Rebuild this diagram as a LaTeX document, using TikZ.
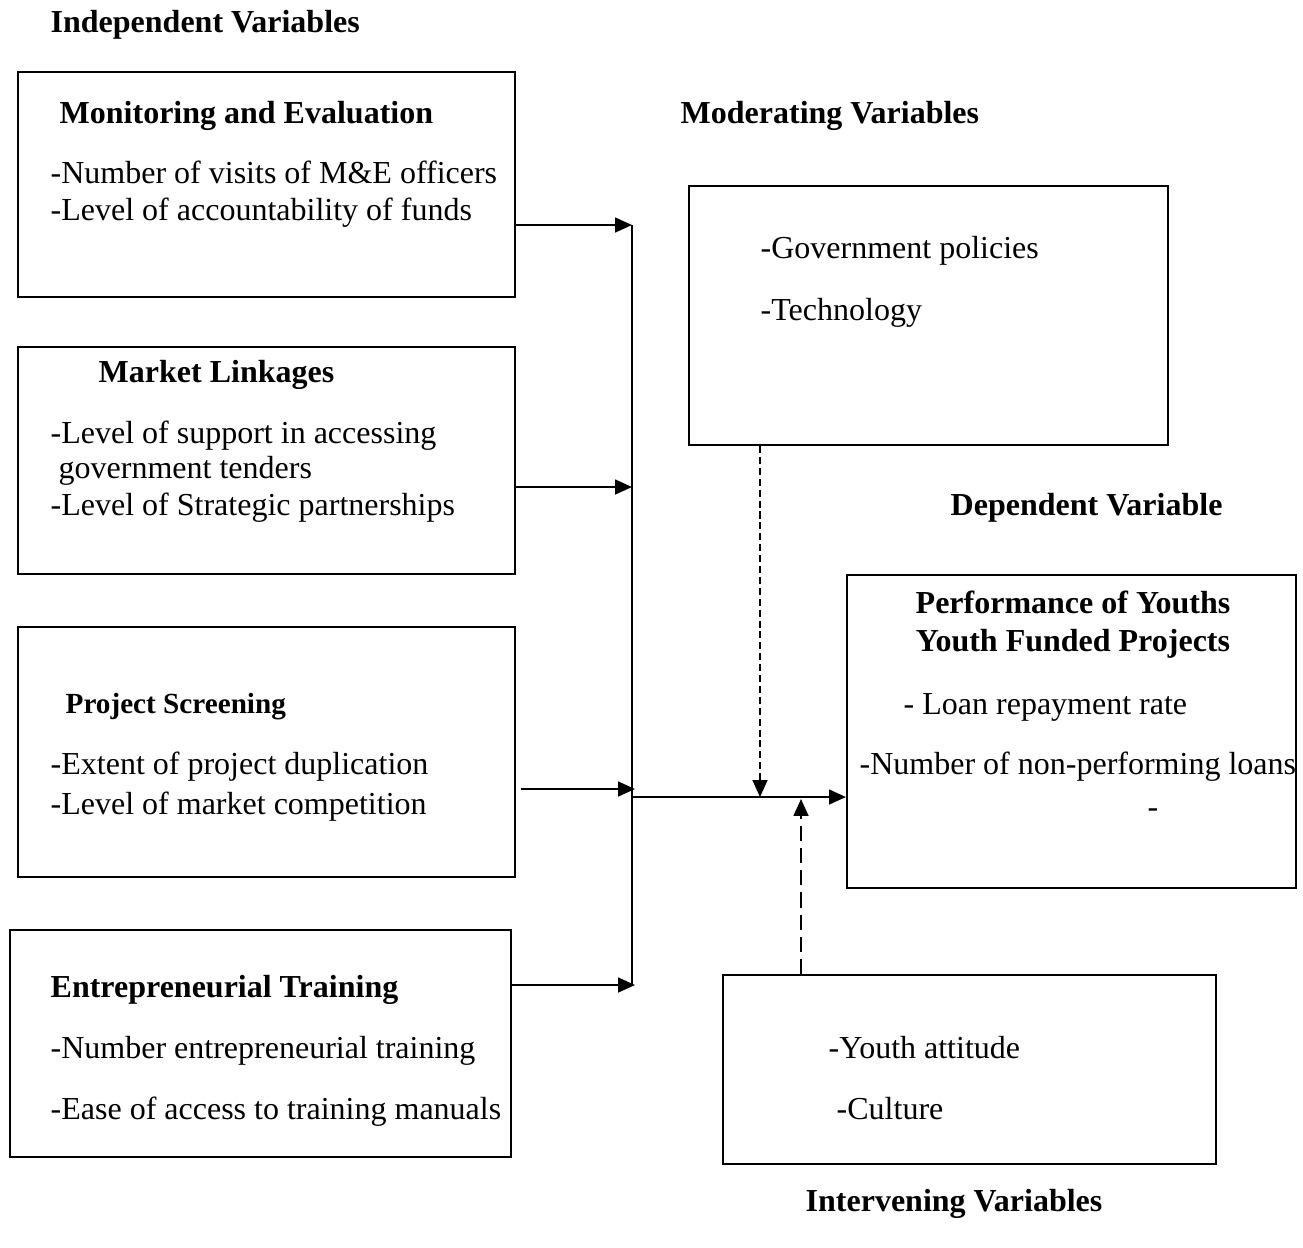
\documentclass[tikz,border=0pt]{standalone}
\usepackage{fontspec}
\setmainfont{Liberation Serif}
\usetikzlibrary{arrows.meta}
\usetikzlibrary{fit}
\tikzset{
  box/.style={draw=black, line width=0.6pt, inner sep=0pt},
  vartitle/.style={anchor=base west, inner sep=0pt, font=\fontsize{9.1}{11}\selectfont\bfseries},
  item/.style={anchor=base west, inner sep=0pt, font=\fontsize{9.1}{11}\selectfont},
  link/.style={line width=0.6pt, -{Triangle[length=4.8pt, width=4.2pt]}}
}

\begin{document}
\begin{tikzpicture}[x=0.01cm, y=-0.01cm]
\useasboundingbox (0,0) rectangle (1303,1247);
% boxes
\node[box, fit={(18,72) (515,297)}] (mon) {};
\node[box, fit={(18,347) (515,574)}] (mkt) {};
\node[box, fit={(18,627) (515,877)}] (scr) {};
\node[box, fit={(10,930) (511,1157)}] (ent) {};
\node[box, fit={(689,186) (1168,445)}] (mod) {};
\node[box, fit={(847,575) (1296,888)}] (dep) {};
\node[box, fit={(723,975) (1216,1164)}] (int) {};
% headings
\node[vartitle] (hind) at (50,32) {Independent Variables};
\node[vartitle] (hmod) at (680,123) {Moderating Variables};
\node[vartitle] (hdep) at (950,515) {Dependent Variable};
\node[vartitle] (hint) at (805,1211) {Intervening Variables};
% independent variables
\node[vartitle] (mon0) at (59,123) {Monitoring and Evaluation};
\node[item] (mon1) at (50,183) {-Number of visits of M\&E officers};
\node[item] (mon2) at (50,220) {-Level of accountability of funds};
\node[vartitle] (mkt0) at (98,382) {Market Linkages};
\node[item] (mkt1) at (50,443) {-Level of support in accessing};
\node[item] (mkt2) at (58,478) {government tenders};
\node[item] (mkt3) at (50,515) {-Level of Strategic partnerships};
\node[vartitle, font=\fontsize{8.3}{10}\selectfont\bfseries] (scr0) at (65,713) {Project Screening};
\node[item] (scr1) at (50,774) {-Extent of project duplication};
\node[item] (scr2) at (50,814) {-Level of market competition};
\node[vartitle] (ent0) at (50,997) {Entrepreneurial Training};
\node[item] (ent1) at (50,1058) {-Number entrepreneurial training};
\node[item] (ent2) at (50,1119) {-Ease of access to training manuals};
% moderating variables
\node[item] (mod1) at (760,258) {-Government policies};
\node[item] (mod2) at (760,320) {-Technology};
% dependent variable
\node[vartitle, anchor=base] (dep0) at (1073,613) {Performance of Youths};
\node[vartitle, anchor=base] (dep1) at (1073,651) {Youth Funded Projects};
\node[item] (dep2) at (903,714) {- Loan repayment rate};
\node[item] (dep3) at (859,774) {-Number of non-performing loans};
\node[item] (dep4) at (1147,817) {-};
% intervening variables
\node[item] (int1) at (828,1058) {-Youth attitude};
\node[item] (int2) at (836,1119) {-Culture};
% connectors
\coordinate (b1) at (632,225);
\coordinate (b2) at (632,487);
\coordinate (b3) at (635,789);
\coordinate (b4) at (635,985);
\coordinate (j) at (632,797);
\coordinate (dn) at (760,797);
\coordinate (up) at (801,799);
\draw[line width=0.6pt] (b1) -- (b4 -| b1);
\draw[link] (mon.east |- b1) -- (b1);
\draw[link] (mkt.east |- b2) -- (b2);
\draw[link] ([xshift=1.4pt]scr.east |- b3) -- (b3);
\draw[link] (ent.east |- b4) -- (b4);
\draw[link] (j) -- (dep.west |- j);
\draw[link, dash pattern=on 2pt off 1.1pt] (mod.south -| dn) -- (dn);
\draw[link, dash pattern=on 4.3pt off 2pt] (int.north -| up) -- (up);
\end{tikzpicture}
\end{document}
